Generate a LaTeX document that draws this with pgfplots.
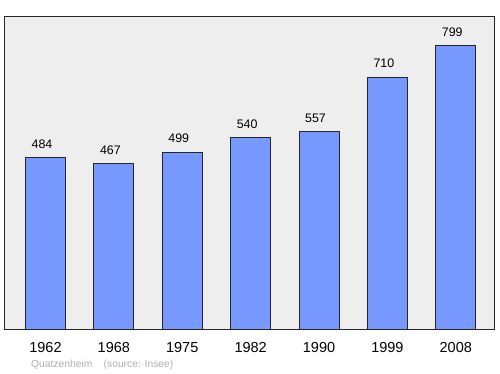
\documentclass[border=0pt]{standalone}
\usepackage{pgfplots}
\pgfplotsset{compat=1.18}
\usepackage{fontspec}
\setmainfont{Liberation Sans}
\definecolor{panelbg}{RGB}{238,238,238}
\definecolor{barblue}{RGB}{119,153,255}
\definecolor{srcgray}{RGB}{175,175,175}
\begin{document}
\begin{tikzpicture}
\path[use as bounding box] (-5pt,-44pt) rectangle (495.3pt,330pt);
\begin{axis}[
  at={(0pt,0pt)}, anchor=south west,
  scale only axis, width=489.7pt, height=313pt,
  xmin=-0.592, xmax=6.565, ymin=0, ymax=879,
  axis background/.style={fill=panelbg},
  axis line style={draw=black!85, line width=1pt},
  ybar, bar width=40pt,
  bar shift=0pt,
  /pgf/number format/assume math mode=true,
  xtick={0,1,2,3,4,5,6},
  xticklabels={1962,1968,1975,1982,1990,1999,2008},
  ytick=\empty,
  major tick length=0pt,
  xticklabel style={anchor=base, yshift=-22.7pt, font=\fontsize{14.5}{16}\selectfont, inner sep=0pt},
  nodes near coords,
  every node near coord/.append style={anchor=base, yshift=9.4pt, xshift=-3.5pt, inner sep=0pt, font=\fontsize{12.4}{14}\selectfont, text=black},
  clip=false,
]
\addplot[fill=barblue, draw=black!85, line width=0.8pt] coordinates {
 (0,484) (1,467) (2,499) (3,540) (4,557) (5,710) (6,799)};
\end{axis}
\node[anchor=base west, inner sep=0pt, text=srcgray, font=\fontsize{10.3}{12}\selectfont] at (26pt,-37.5pt) {Quatzenheim\hspace{1.1em}(source: Insee)};
\end{tikzpicture}
\end{document}
